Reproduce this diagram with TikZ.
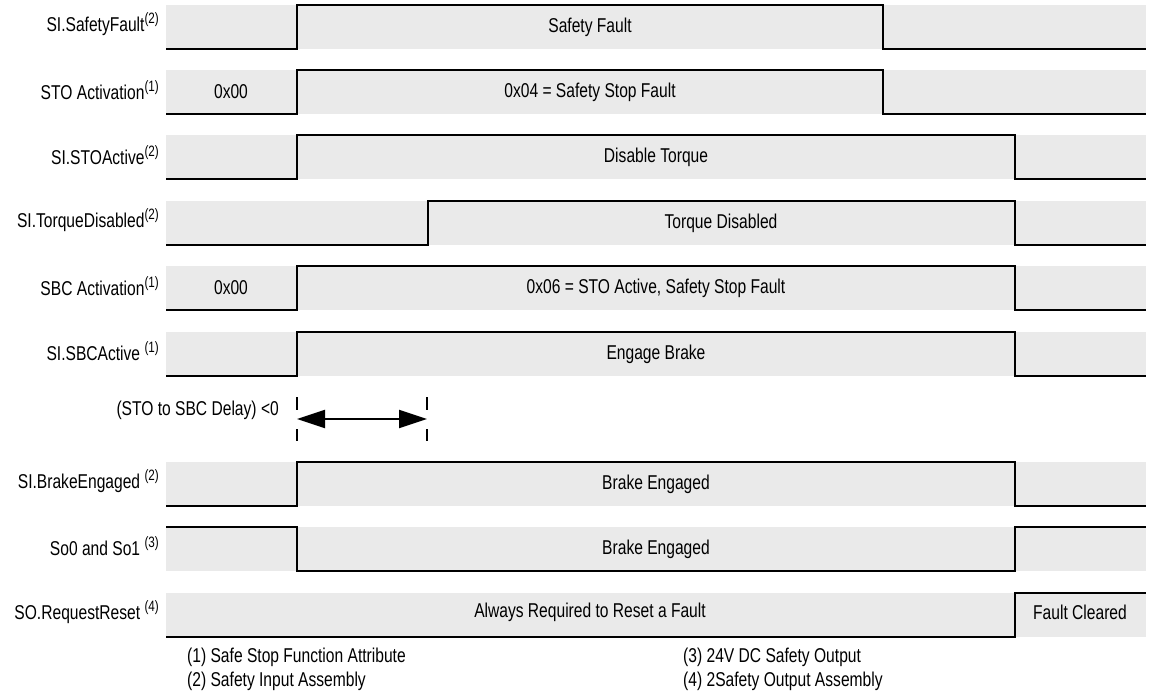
\documentclass[tikz,border=0pt]{standalone}
\usepackage{fontspec}
\setmainfont{Liberation Sans}[FakeStretch=0.78]
\usetikzlibrary{arrows.meta}
\definecolor{bandgray}{RGB}{234,234,234}
\newcommand\fnmark[1]{\raisebox{0.42em}{\fontsize{15}{17}\selectfont #1}}
\begin{document}
\begin{tikzpicture}[x=1pt,y=-1pt,
  font=\fontsize{20}{23}\selectfont,
  sig/.style={line width=2.8pt, line join=miter, black},
  band/.style={fill=bandgray},
  lbl/.style={anchor=east, inner sep=0pt},
  val/.style={inner sep=0pt},
  note/.style={anchor=west, inner sep=0pt},
  tick/.style={line width=1.5pt, dash pattern=on 13pt off 19pt},
  span/.style={line width=2pt, {Triangle[length=28pt,width=18pt]}-{Triangle[length=28pt,width=18pt]}}]
\useasboundingbox (0,0) rectangle (1149,696);
% bands
\foreach \t in {5,70,135,201,266,332,462,527,593}
  \fill[band] (166,\t) rectangle (1146,\t+44);
% labels
\node[lbl] (l1) at (159,24) {SI.SafetyFault\fnmark{(2)}};
\node[lbl] (l2) at (159,90) {STO Activation\fnmark{(1)}};
\node[lbl] (l3) at (159,155) {SI.STOActive\fnmark{(2)}};
\node[lbl] (l4) at (159,220) {SI.TorqueDisabled\fnmark{(2)}};
\node[lbl] (l5) at (159,286) {SBC Activation\fnmark{(1)}};
\node[lbl] (l6) at (159,351) {SI.SBCActive \fnmark{(1)}};
\node[lbl] (l7) at (159,481) {SI.BrakeEngaged \fnmark{(2)}};
\node[lbl] (l8) at (159,546) {So0 and So1 \fnmark{(3)}};
\node[lbl] (l9) at (159,612) {SO.RequestReset \fnmark{(4)}};
% waveforms
\draw[sig] (166,49) -| (297,5) -| (883,49) -- (1146,49);
\draw[sig] (166,114) -| (297,70) -| (883,114) -- (1146,114);
\draw[sig] (166,179) -| (297,135) -| (1015,179) -- (1146,179);
\draw[sig] (166,245) -| (428,201) -| (1015,245) -- (1146,245);
\draw[sig] (166,310) -| (297,266) -| (1015,310) -- (1146,310);
\draw[sig] (166,376) -| (297,332) -| (1015,376) -- (1146,376);
\draw[sig] (166,506) -| (297,462) -| (1015,506) -- (1146,506);
\draw[sig] (166,527) -| (297,571) -| (1015,527) -- (1146,527);
\draw[sig] (166,637) -| (1015,593) -- (1146,593);
% values
\node[val] (v1) at (590,27) {Safety Fault};
\node[val] (v2a) at (231,92) {0x00};
\node[val] (v2b) at (590,92) {0x04 = Safety Stop Fault};
\node[val] (v3) at (656,157) {Disable Torque};
\node[val] (v4) at (721,223) {Torque Disabled};
\node[val] (v5a) at (231,288) {0x00};
\node[val] (v5b) at (656,288) {0x06 = STO Active, Safety Stop Fault};
\node[val] (v6) at (656,354) {Engage Brake};
\node[val] (v7) at (656,484) {Brake Engaged};
\node[val] (v8) at (656,549) {Brake Engaged};
\node[val] (v9a) at (590,612) {Always Required to Reset a Fault};
\node[val] (v9b) at (1080,612) {Fault Cleared};
% delay arrow
\coordinate (t1a) at (297,397);
\coordinate (t1b) at (297,441);
\coordinate (t2a) at (427,397);
\coordinate (t2b) at (427,441);
\coordinate (a1) at (297,419);
\coordinate (a2) at (427,419);
\draw[tick] (t1a) -- (t1b);
\draw[tick] (t2a) -- (t2b);
\draw[span] (a1) -- (a2);
\node[lbl] (dl) at (279,410) {(STO to SBC Delay) <0};
% footnotes
\node[note] (n1) at (187,657) {(1) Safe Stop Function Attribute};
\node[note] (n2) at (187,681) {(2) Safety Input Assembly};
\node[note] (n3) at (683,657) {(3) 24V DC Safety Output};
\node[note] (n4) at (683,681) {(4) 2Safety Output Assembly};
\end{tikzpicture}
\end{document}
